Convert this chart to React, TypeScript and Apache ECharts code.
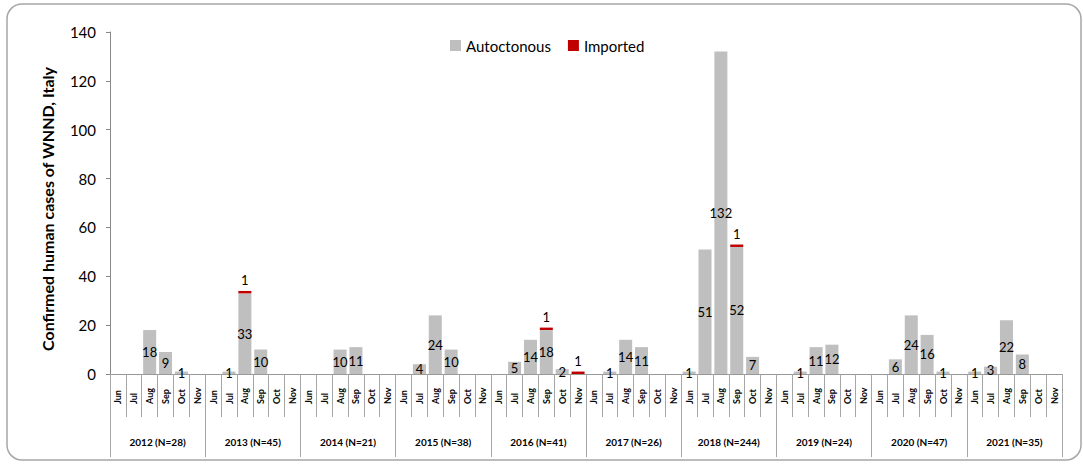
import React, { useEffect, useRef } from 'react';
import * as echarts from 'echarts';

const FONT = 'Lato, "Noto Sans", sans-serif';

const months = ['Jun', 'Jul', 'Aug', 'Sep', 'Oct', 'Nov'];
const yearLabels = [
  '2012 (N=28)', '2013 (N=45)', '2014 (N=21)', '2015 (N=38)', '2016 (N=41)',
  '2017 (N=26)', '2018 (N=244)', '2019 (N=24)', '2020 (N=47)', '2021 (N=35)',
];

// Jun..Nov for each year
const autoctonous = [
  0, 0, 18, 9, 1, 0,     // 2012
  0, 1, 33, 10, 0, 0,    // 2013
  0, 0, 10, 11, 0, 0,    // 2014
  0, 4, 24, 10, 0, 0,    // 2015
  0, 5, 14, 18, 2, 0,    // 2016
  0, 1, 14, 11, 0, 0,    // 2017
  1, 51, 132, 52, 7, 0,  // 2018
  0, 1, 11, 12, 0, 0,    // 2019
  0, 6, 24, 16, 1, 0,    // 2020
  1, 3, 22, 8, 0, 0,     // 2021
];
const imported = [
  0, 0, 0, 0, 0, 0,
  0, 0, 1, 0, 0, 0,
  0, 0, 0, 0, 0, 0,
  0, 0, 0, 0, 0, 0,
  0, 0, 0, 1, 0, 1,
  0, 0, 0, 0, 0, 0,
  0, 0, 0, 1, 0, 0,
  0, 0, 0, 0, 0, 0,
  0, 0, 0, 0, 0, 0,
  0, 0, 0, 0, 0, 0,
];
const yTitle = 'Confirmed human cases of WNND, Italy';

export default function App() {
  const ref = useRef<HTMLDivElement>(null);
  useEffect(() => {
    const chart = echarts.init(ref.current!, null, { renderer: 'svg' });
    const monthCats: string[] = [];
    yearLabels.forEach(() => months.forEach((m) => monthCats.push(m)));
    const fmt = (p: any) => (p.value ? String(p.value) : '');
    chart.setOption({
      animation: false,
      backgroundColor: '#fff',
      textStyle: { fontFamily: FONT },
      grid: { left: 110, right: 21, top: 32, bottom: 90, containLabel: false },
      legend: {
        data: ['Autoctonous', 'Imported'],
        left: 450,
        top: 38,
        padding: 0,
        itemWidth: 11,
        itemHeight: 11,
        itemGap: 17,
        icon: 'rect',
        textStyle: { fontSize: 15, color: '#000', fontFamily: FONT },
      },
      xAxis: [
        {
          type: 'category',
          data: monthCats,
          position: 'bottom',
          axisLine: { show: true, lineStyle: { color: '#999' } },
          axisTick: { show: true, interval: 0, length: 43, lineStyle: { color: '#a6a6a6' } },
          axisLabel: {
            show: true,
            interval: 0,
            rotate: 90,
            margin: 30,
            align: 'left',
            verticalAlign: 'middle',
            fontSize: 9,
            fontWeight: 'bold',
            color: '#000',
            fontFamily: FONT,
          },
        },
        {
          type: 'category',
          data: yearLabels,
          position: 'bottom',
          axisLine: { show: false },
          axisTick: { show: true, interval: 0, length: 83, lineStyle: { color: '#a6a6a6' } },
          axisLabel: {
            show: true,
            interval: 0,
            margin: 63,
            fontSize: 10,
            fontWeight: 'bold',
            color: '#000',
            fontFamily: FONT,
          },
        },
      ],
      yAxis: {
        type: 'value',
        min: 0,
        max: 140,
        interval: 20,
        axisLine: { show: true, lineStyle: { color: '#888' } },
        axisTick: { show: true, length: 4, lineStyle: { color: '#888' } },
        splitLine: { show: false },
        axisLabel: { margin: 14, fontSize: 15, color: '#000', fontFamily: FONT },
      },
      series: [
        {
          name: 'Autoctonous',
          type: 'bar',
          stack: 'total',
          xAxisIndex: 0,
          data: autoctonous,
          barCategoryGap: '18%',
          itemStyle: { color: '#BFBFBF' },
          label: {
            show: true,
            position: 'inside',
            formatter: fmt,
            fontSize: 13,
            color: '#000',
            textBorderWidth: 0,
            fontFamily: FONT,
          },
        },
        {
          name: 'Imported',
          type: 'bar',
          stack: 'total',
          xAxisIndex: 0,
          data: imported,
          barCategoryGap: '18%',
          itemStyle: { color: '#C00000' },
          label: {
            show: true,
            position: 'top',
            distance: 4,
            formatter: fmt,
            fontSize: 13,
            color: '#000',
            fontFamily: FONT,
          },
        },
      ],
      graphic: [
        {
          type: 'rect',
          shape: { x: 7, y: 4, width: 1074, height: 456, r: 15 },
          style: { fill: 'none', stroke: '#a6a6a6', lineWidth: 1.5 },
          silent: true,
        },
        {
          type: 'text',
          x: 47,
          y: 209,
          rotation: Math.PI / 2,
          style: {
            text: yTitle,
            fontSize: 16,
            fontWeight: 'bold',
            fill: '#000',
            fontFamily: FONT,
            align: 'center',
            verticalAlign: 'middle',
          },
        },
      ],
    });
    return () => chart.dispose();
  }, []);
  return (
    <div
      ref={ref}
      style={{ position: 'absolute', left: 0, top: 0, width: 1083, height: 464, background: '#fff' }}
    />
  );
}
